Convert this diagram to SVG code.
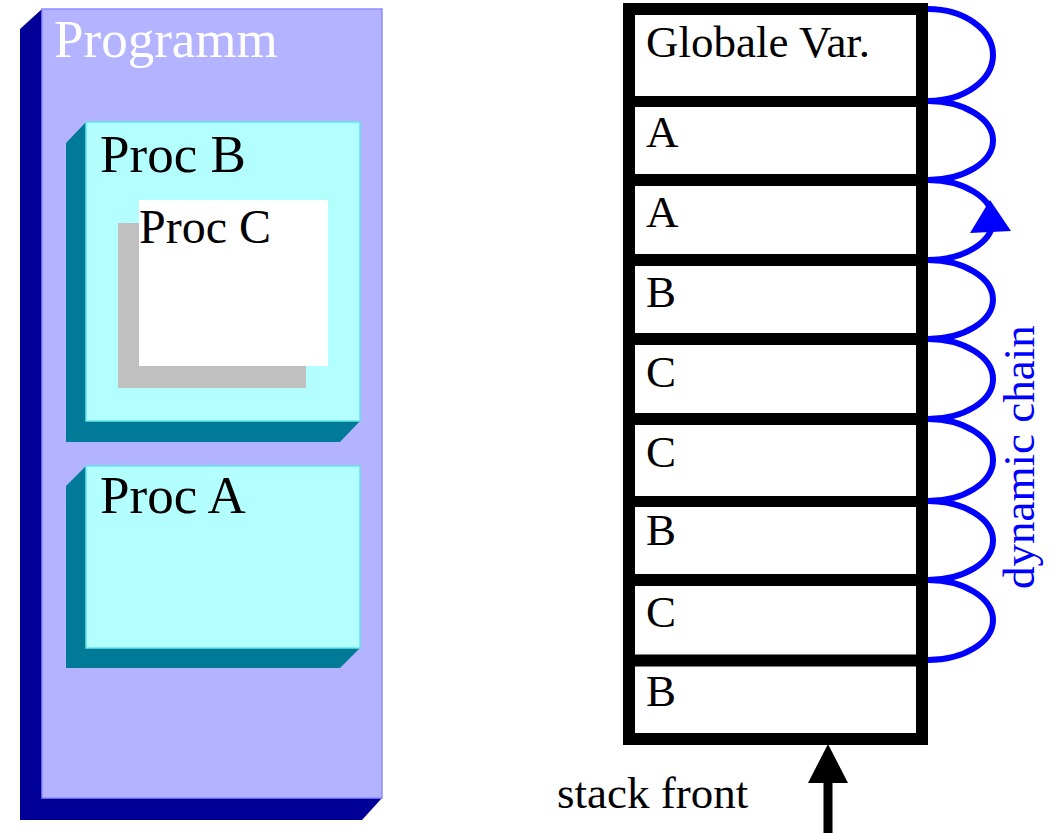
<svg xmlns="http://www.w3.org/2000/svg" width="1064" height="833" viewBox="0 0 1064 833">
<style>
.lbl{font-family:"Liberation Serif","Times New Roman",serif;}
.big{font-size:53px;}
.cell{font-size:45px;fill:#000;}
.proc{fill:#b3ffff;stroke:#66e6e6;stroke-width:1.5;}
.procsh{fill:#007a96;}
.arc{fill:none;stroke:#0000ff;stroke-width:6;}
.frame{fill:none;stroke:#000;stroke-width:12;}
</style>
<rect width="1064" height="833" fill="#fff"/>
<g id="programm">
  <polygon points="20,29 42,9 42,798 382,798 362,820 20,820" fill="#000099"/>
  <rect x="42" y="9" width="340" height="789" fill="#b3b3ff" stroke="#8c8cff" stroke-width="1.5"/>
  <text class="lbl big" x="54" y="57" fill="#ffffff">Programm</text>
</g>
<g id="procB">
  <polygon class="procsh" points="66,143 86,122 86,421 360,421 340,442 66,442"/>
  <rect class="proc" x="86" y="122" width="274" height="299"/>
  <text class="lbl big" x="100" y="172" fill="#000">Proc B</text>
</g>
<g id="procC">
  <rect x="118" y="223" width="188" height="165" fill="#c0c0c0"/>
  <rect x="139" y="200" width="189" height="166" fill="#ffffff"/>
  <text class="lbl" x="139" y="243" font-size="48" fill="#000">Proc C</text>
</g>
<g id="procA">
  <polygon class="procsh" points="66,486 86,466 86,648 360,648 340,668 66,668"/>
  <rect class="proc" x="86" y="466" width="274" height="182"/>
  <text class="lbl big" x="100" y="513" fill="#000">Proc A</text>
</g>
<g id="stack">
  <rect class="frame" x="629" y="9" width="293" height="730" fill="#fff"/>
  <line x1="623" y1="101.5" x2="928" y2="101.5" stroke="#000" stroke-width="11"/>
  <line x1="623" y1="180" x2="928" y2="180" stroke="#000" stroke-width="12"/>
  <line x1="623" y1="260" x2="928" y2="260" stroke="#000" stroke-width="12"/>
  <line x1="623" y1="339" x2="928" y2="339" stroke="#000" stroke-width="12"/>
  <line x1="623" y1="419" x2="928" y2="419" stroke="#000" stroke-width="12"/>
  <line x1="623" y1="501.5" x2="928" y2="501.5" stroke="#000" stroke-width="11"/>
  <line x1="623" y1="580" x2="928" y2="580" stroke="#000" stroke-width="12"/>
  <line x1="623" y1="660.5" x2="928" y2="660.5" stroke="#000" stroke-width="12"/>
  <text class="lbl cell" x="646" y="57">Globale Var.</text>
  <text class="lbl cell" x="646" y="147">A</text>
  <text class="lbl cell" x="646" y="227">A</text>
  <text class="lbl cell" x="646" y="307">B</text>
  <text class="lbl cell" x="646" y="387">C</text>
  <text class="lbl cell" x="646" y="467">C</text>
  <text class="lbl cell" x="646" y="545">B</text>
  <text class="lbl cell" x="646" y="627">C</text>
  <text class="lbl cell" x="646" y="706">B</text>
</g>
<g id="connectors">
  <path class="arc" d="M928,9 A65,46 0 0 1 928,101"/>
  <path class="arc" d="M928,101 A65,39.5 0 0 1 928,180"/>
  <path class="arc" d="M928,180 A65,40 0 0 1 928,260"/>
  <polygon points="990,200 970,233 1011,231" fill="#0000ff"/>
  <path class="arc" d="M928,260 A65,39.5 0 0 1 928,339"/>
  <path class="arc" d="M928,339 A65,40 0 0 1 928,419"/>
  <path class="arc" d="M928,419 A65,41 0 0 1 928,501"/>
  <path class="arc" d="M928,501 A65,39.5 0 0 1 928,580"/>
  <path class="arc" d="M928,580 A65,40 0 0 1 928,660"/>
  <line x1="828" y1="780" x2="828" y2="833" stroke="#000" stroke-width="9"/>
  <polygon points="828,744 808,783 848,783" fill="#000"/>
</g>
<g id="labels">
  <text class="lbl" transform="translate(1034,589) rotate(-90)" font-size="45" fill="#0000ff">dynamic chain</text>
  <text class="lbl" x="557" y="808" font-size="45" fill="#000">stack front</text>
</g>
</svg>
